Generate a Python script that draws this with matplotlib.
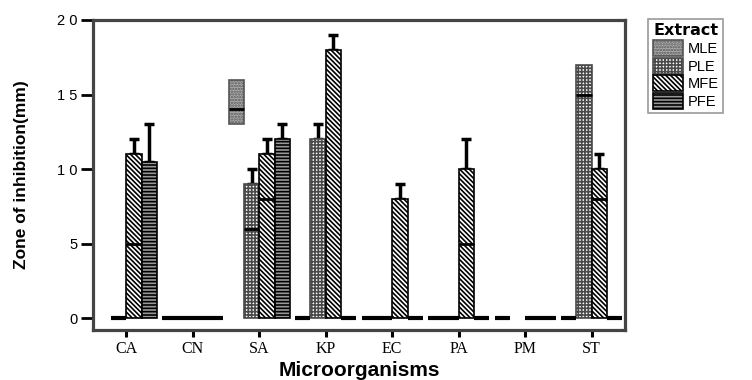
import numpy as np
import matplotlib
matplotlib.use('Agg')
import matplotlib.pyplot as plt
from matplotlib.patches import Patch

plt.rcParams['hatch.linewidth'] = 1.2

nan = np.nan
cats = ['CA', 'CN', 'SA', 'KP', 'EC', 'PA', 'PM', 'ST']

# MLE only shows a floating box at SA (13-16, line at 14)
mle = [nan, 0, 16, 0, 0, 0, 0, 0]
mle_base = [0, 0, 13, 0, 0, 0, 0, 0]
mle_line = [nan, nan, 14, nan, nan, nan, nan, nan]

ple = [0, 0, 9, 12, 0, 0, nan, 17]
ple_hi = [nan, nan, 10, 13, nan, nan, nan, nan]
ple_lo = [nan, nan, 6, nan, nan, nan, nan, 15]

mfe = [11, 0, 11, 18, 8, 10, 0, 10]
mfe_hi = [12, nan, 12, 19, 9, 12, nan, 11]
mfe_lo = [5, nan, 8, nan, nan, 5, nan, 8]

pfe = [10.5, 0, 12, 0, 0, 0, 0, 0]
pfe_hi = [13, nan, 13, nan, nan, nan, nan, nan]
pfe_lo = [nan] * 8

series = [
    ('MLE', mle, mle_base, [nan] * 8, mle_line, dict(facecolor='#b0b0b0', hatch='......', edgecolor='#555555')),
    ('PLE', ple, [0] * 8, ple_hi, ple_lo, dict(facecolor='white', hatch='+++++', edgecolor='#4a4a4a')),
    ('MFE', mfe, [0] * 8, mfe_hi, mfe_lo, dict(facecolor='white', hatch='\\' * 7, edgecolor='black')),
    ('PFE', pfe, [0] * 8, pfe_hi, pfe_lo, dict(facecolor='#999999', hatch='-----', edgecolor='black')),
]

fig = plt.figure(figsize=(7.52, 3.8), dpi=100)
ax = fig.add_axes([0.1237, 0.1316, 0.7074, 0.8158])

w = 0.23
x = np.arange(len(cats))
for i, (name, vals, base, hi, lo, style) in enumerate(series):
    off = (i - 2) * w + w / 2
    for j in range(len(cats)):
        v = vals[j]
        if np.isnan(v):
            continue
        xc = x[j] + off
        if v == 0:
            ax.hlines(0, xc - w / 2, xc + w / 2, color='black', lw=3, zorder=4)
            continue
        ax.bar(xc, v - base[j], w, bottom=base[j], linewidth=1.2, zorder=3, **style)
        if not np.isnan(hi[j]):
            ax.errorbar(xc, v, yerr=[[0], [hi[j] - v]], fmt='none', ecolor='black',
                        elinewidth=2.5, capsize=3.5, capthick=2.5, zorder=2)
        if not np.isnan(lo[j]):
            ax.hlines(lo[j], xc - w / 2, xc + w / 2, color='black', lw=2, zorder=4)

ax.set_xlim(-0.5, 7.5)
ax.set_ylim(-0.8, 20)
ax.set_yticks([0, 5, 10, 15, 20])
ax.set_yticklabels(['0', '5', '1 0', '1 5', '2 0'], fontfamily='Liberation Sans', fontsize=10.5)
ax.set_xticks(x)
ax.set_xticklabels(cats, fontfamily='Liberation Serif', fontsize=11.5)
ax.tick_params(axis='y', direction='out', length=9, width=2, pad=2)
ax.tick_params(axis='x', direction='out', length=5, width=2.2, pad=3)
for s in ax.spines.values():
    s.set_linewidth(2.3)
    s.set_color('#444444')

ax.set_xlabel('Microorganisms', fontfamily='Liberation Sans', fontweight='bold', fontsize=15, labelpad=3)
ax.set_ylabel('Zone of inhibition(mm)', fontfamily='Liberation Sans', fontweight='bold', fontsize=12.5, labelpad=20)

handles = [Patch(label=name, linewidth=1.2, **style) for name, _, _, _, _, style in series]
leg = fig.legend(handles=handles, title='Extract', loc='upper left', bbox_to_anchor=(0.862, 0.95),
                 prop={'family': 'Liberation Sans', 'size': 10.5}, frameon=True, fancybox=False,
                 handlelength=2.1, handleheight=1.3, labelspacing=0.12, handletextpad=0.3,
                 borderpad=0.3, borderaxespad=0)
leg.get_title().set_fontweight('bold')
leg.get_title().set_fontsize(11.5)
leg.get_frame().set_edgecolor('#808080')
leg.get_frame().set_linewidth(1.2)

plt.savefig('out.png', dpi=100)
